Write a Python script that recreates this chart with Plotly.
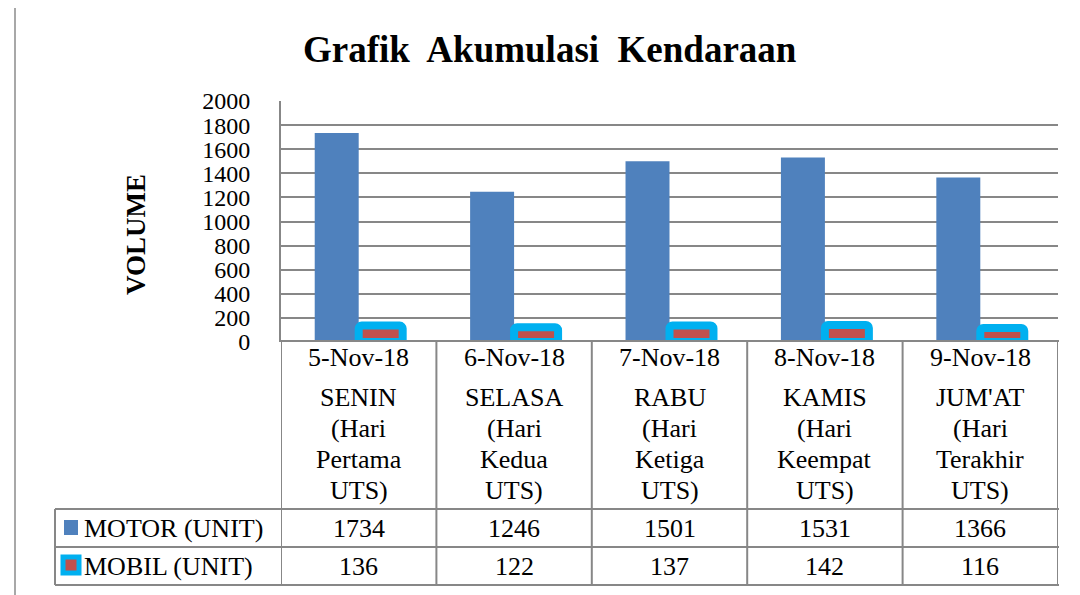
import plotly.graph_objects as go

# data
tanggal = ["5-Nov-18", "6-Nov-18", "7-Nov-18", "8-Nov-18", "9-Nov-18"]
hari = ["SENIN", "SELASA", "RABU", "KAMIS", "JUM'AT"]
keterangan = ["Pertama", "Kedua", "Ketiga", "Keempat", "Terakhir"]
motor = [1734, 1246, 1501, 1531, 1366]
mobil = [136, 122, 137, 142, 116]
nama_seri = ["MOTOR (UNIT)", "MOBIL (UNIT)"]
y_ticks = list(range(0, 2001, 200))

W, H = 1080, 595
OFF = 8  # margin body halaman html
FONT = "Liberation Serif"
GRID = "#878787"
BIRU = "#4F81BD"
MERAH = "#C0504D"
CYAN = "#00B0F0"


def px(x):
    return (x - OFF) / W


def py(y):
    return 1 - (y - OFF) / H


idx = list(range(len(tanggal)))

fig = go.Figure()
fig.add_trace(go.Bar(x=idx, y=motor, name=nama_seri[0],
                     marker=dict(color=BIRU, line=dict(width=0))))
fig.add_trace(go.Bar(x=idx, y=mobil, name=nama_seri[1],
                     marker=dict(color=MERAH, line=dict(color=CYAN, width=8),
                                 cornerradius=3)))

# tabel data di bawah grafik
top, r1, r2, r3 = 341, 509, 547, 585
left_leg, left_tab, right_tab = 55, 281, 1059
shapes = []
for yy, x0 in [(top, left_tab), (r1, left_leg), (r2, left_leg), (r3, left_leg)]:
    shapes.append(dict(type="line", xref="paper", yref="paper",
                       x0=px(x0), x1=px(right_tab), y0=py(yy), y1=py(yy),
                       line=dict(color=GRID, width=2)))
for k in range(len(tanggal) + 1):
    shapes.append(dict(type="line", xref="x", yref="paper",
                       x0=k - 0.5, x1=k - 0.5, y0=py(top), y1=py(r3),
                       line=dict(color=GRID, width=2)))
shapes.append(dict(type="line", xref="paper", yref="paper",
                   x0=px(left_leg), x1=px(left_leg), y0=py(r1), y1=py(r3),
                   line=dict(color=GRID, width=2)))
# kunci legenda
shapes.append(dict(type="rect", xref="paper", yref="paper",
                   x0=px(64), x1=px(78), y0=py(535), y1=py(520),
                   fillcolor=BIRU, line=dict(width=0)))
shapes.append(dict(type="rect", xref="paper", yref="paper",
                   x0=px(63), x1=px(79), y0=py(573), y1=py(557),
                   fillcolor=MERAH, line=dict(color=CYAN, width=5)))
# bingkai grafik
shapes.append(dict(type="rect", xref="paper", yref="paper",
                   x0=px(15), x1=px(1100), y0=py(620), y1=py(2.5),
                   line=dict(color="#8c8c8c", width=1.5)))


def teks(x, y, s, size=26, xref="x", **kw):
    return dict(x=x, y=py(y), xref=xref, yref="paper", text=s, showarrow=False,
                xanchor=kw.pop("xanchor", "center"), yanchor="middle",
                font=dict(size=size), **kw)


ann = []
for i in idx:
    ann.append(teks(i, 357, tanggal[i]))
    baris = [hari[i], "(Hari", keterangan[i], "UTS)"]
    for j, s in enumerate(baris):
        ann.append(teks(i, 397 + 31 * j, s))
    ann.append(teks(i, 528, str(motor[i])))
    ann.append(teks(i, 566, str(mobil[i])))
for nama, yy in zip(nama_seri, [528, 566]):
    ann.append(teks(px(82), yy, nama, xref="paper", xanchor="left"))
ann.append(teks(px(550), 50, "<b>Grafik\u00a0 Akumulasi\u00a0 Kendaraan</b>",
                size=37, xref="paper"))
ann.append(teks(px(136), 235, "<b>VOLUME</b>", size=27, xref="paper",
                textangle=-90))

fig.update_layout(
    width=W, height=H,
    margin=dict(l=0, r=0, t=0, b=0, autoexpand=False),
    paper_bgcolor="white", plot_bgcolor="white",
    font=dict(family=FONT, color="black", size=26),
    barmode="group", bargap=0.434, bargroupgap=0,
    showlegend=False,
    shapes=shapes, annotations=ann,
    xaxis=dict(domain=[px(281), px(1058)], range=[-0.5, len(tanggal) - 0.5],
               showticklabels=False, showgrid=False, zeroline=False,
               showline=False, fixedrange=True, automargin=False),
    yaxis=dict(domain=[py(342), py(101)], range=[0, 2000], tickvals=y_ticks,
               showgrid=True, gridcolor=GRID, gridwidth=1.5, zeroline=False,
               showline=True, linecolor=GRID, linewidth=2, automargin=False,
               ticks="", ticklabelstandoff=24, tickfont=dict(size=24)),
)

fig.write_html("out.html")
